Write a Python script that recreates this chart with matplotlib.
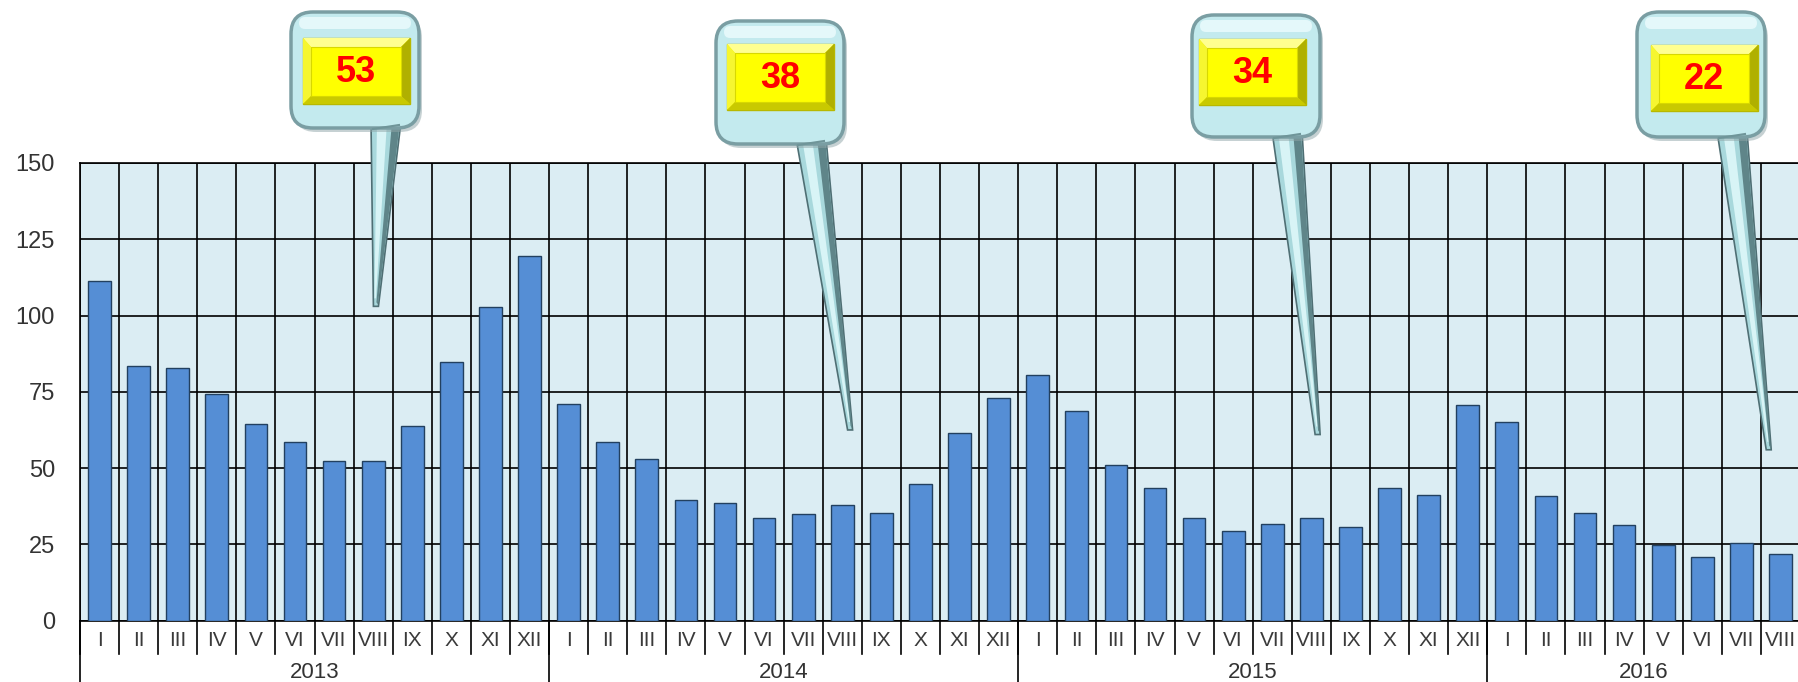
import numpy as np
import matplotlib.pyplot as plt
from matplotlib.patches import FancyBboxPatch, Rectangle, Polygon
from matplotlib.transforms import blended_transform_factory

plt.rcParams['font.family'] = ['Liberation Sans', 'DejaVu Sans']

# ============================================================
# DATA
# ============================================================

years = ['2013', '2014', '2015', '2016']
months_per_year = [12, 12, 12, 8]
roman = ['I', 'II', 'III', 'IV', 'V', 'VI', 'VII', 'VIII', 'IX', 'X', 'XI', 'XII']

values = [
    111.4, 83.4, 82.9, 74.2, 64.3, 58.4, 52.4, 52.4, 63.9, 84.7, 102.8, 119.6,   # 2013
    71.0, 58.4, 52.9, 39.7, 38.5, 33.8, 34.8, 38.0, 35.3, 44.8, 61.5, 73.1,      # 2014
    80.5, 68.8, 51.1, 43.4, 33.8, 29.4, 31.7, 33.8, 30.8, 43.4, 41.2, 70.6,      # 2015
    65.2, 40.7, 35.3, 31.2, 24.7, 20.8, 25.3, 21.7,                              # 2016
]

callout_labels = ['53', '38', '34', '22']

# ============================================================
# LAYOUT (pixels / data anchors for the callouts)
# ============================================================

W, H = 1799, 682
# bubble: left, top, width, height (pixels)
callout_boxes = [(291, 12, 128, 116), (716, 21, 128, 123), (1192, 15, 128, 122), (1637, 12, 128, 125)]
# yellow plate: left, top (pixels)
callout_plates = [(303, 38), (727, 44), (1199, 39), (1651, 45)]
# tail tip anchor in data coords
callout_tips = [(7.57, 103.0), (19.7, 62.5), (31.66, 61.0), (43.2, 56.0)]
PLATE_W, PLATE_H = 107, 66

fig = plt.figure(figsize=(W / 100, H / 100), dpi=100)
ax_h = 457.8
ax = fig.add_axes([80 / W, 61.3 / H, 1720 / W, ax_h / H])

n = len(values)
x = np.arange(n) + 0.5

ax.set_facecolor('#dbedf3')
ax.bar(x, values, width=0.58, color='#558ed5', edgecolor='#22405f', linewidth=1.0, zorder=3)
ax.set_xlim(0, n)
ax.set_ylim(0, 150)
ax.set_yticks(np.arange(0, 151, 25))
ax.set_xticks([])
ax.grid(axis='y', color='black', lw=1.2, zorder=1)
for b in range(n + 1):
    ax.axvline(b, color='black', lw=1.2, zorder=1)
for s in ax.spines.values():
    s.set_color('black')
    s.set_linewidth(1.2)
ax.tick_params(axis='y', length=0, pad=18, labelsize=17, labelcolor='#333333')

# category axis below the plot
trans = blended_transform_factory(ax.transData, ax.transAxes)
for b in range(n + 1):
    ax.plot([b, b], [0, -33 / ax_h], transform=trans, clip_on=False, color='black', lw=1.2)
for i in range(n):
    m = roman[i % 12]
    ax.text(i + 0.5, -20 / ax_h, m, transform=trans, ha='center', va='center',
            fontsize=15, color='#3a3a3a')

start = 0
for yr, cnt in zip(years, months_per_year):
    ax.plot([start, start], [0, -0.3], transform=trans, clip_on=False, color='black', lw=1.2)
    ax.text(start + cnt / 2, -51.5 / ax_h, yr, transform=trans, ha='center', va='center',
            fontsize=16, color='#333333')
    start += cnt

# ============================================================
# CALLOUTS
# ============================================================

ov = fig.add_axes([0, 0, 1, 1], zorder=10)
ov.set_xlim(0, W)
ov.set_ylim(H, 0)
ov.axis('off')

fig.canvas.draw()
for lab, (bx, by, bw, bh), (px, py), tip in zip(callout_labels, callout_boxes,
                                                 callout_plates, callout_tips):
    tx, ty = ax.transData.transform(tip)
    ty = H - ty
    # tail
    base_l = bx + 80
    base_r = bx + 110
    base_y = by + bh - 6
    ov.add_patch(Polygon([(base_l, base_y), (base_r, base_y), (tx + 2.5, ty), (tx - 2.5, ty)],
                         closed=True, facecolor='#a8d8dc', edgecolor='#4f6f74', lw=1.2))
    ov.add_patch(Polygon([(base_l + 6, base_y), (base_l + 16, base_y), (tx, ty - 8), (tx - 1.5, ty - 8)],
                         closed=True, facecolor='#d8f4f6', edgecolor='none'))
    ov.add_patch(Polygon([(base_r - 9, base_y), (base_r - 1, base_y), (tx + 2, ty - 2), (tx + 0.5, ty - 4)],
                         closed=True, facecolor='#5f8589', edgecolor='none'))
    # bubble with shadow
    ov.add_patch(FancyBboxPatch((bx + 3, by + 4), bw, bh, boxstyle='round,pad=0,rounding_size=22',
                                facecolor='#8fa5a8', edgecolor='none', alpha=0.5))
    ov.add_patch(FancyBboxPatch((bx, by), bw, bh, boxstyle='round,pad=0,rounding_size=22',
                                facecolor='#c3eaee', edgecolor='#7a9ea3', lw=2.5))
    ov.add_patch(FancyBboxPatch((bx + 8, by + 5), bw - 16, 12, boxstyle='round,pad=0,rounding_size=6',
                                facecolor='#e4f8fa', edgecolor='none'))
    # neck ridge where the tail joins
    ov.plot([base_l + 2, base_r - 2], [by + bh + 1, by + bh - 3], color='#6f9599', lw=1.5)
    # yellow bevelled plate
    yx0, yy0 = px, py
    yx1, yy1 = px + PLATE_W, py + PLATE_H
    ix0, iy0 = yx0 + 8, yy0 + 9
    ix1, iy1 = yx1 - 9, yy1 - 8
    ov.add_patch(Rectangle((yx0, yy0), yx1 - yx0, yy1 - yy0, facecolor='#f4f400', edgecolor='#b8b800', lw=1))
    ov.add_patch(Polygon([(yx0, yy0), (yx1, yy0), (ix1, iy0), (ix0, iy0)], facecolor='#ffff90', edgecolor='none'))
    ov.add_patch(Polygon([(yx0, yy0), (ix0, iy0), (ix0, iy1), (yx0, yy1)], facecolor='#f6f630', edgecolor='none'))
    ov.add_patch(Polygon([(yx0, yy1), (ix0, iy1), (ix1, iy1), (yx1, yy1)], facecolor='#c9c900', edgecolor='none'))
    ov.add_patch(Polygon([(yx1, yy0), (yx1, yy1), (ix1, iy1), (ix1, iy0)], facecolor='#b0b000', edgecolor='none'))
    ov.add_patch(Rectangle((ix0, iy0), ix1 - ix0, iy1 - iy0, facecolor='#ffff00', edgecolor='#d8d800', lw=0.8))
    ov.text((ix0 + ix1) / 2, (iy0 + iy1) / 2 + 1, lab, ha='center', va='center',
            fontsize=26, fontweight='bold', color='#ff0000')

fig.savefig('out.png', dpi=100)
